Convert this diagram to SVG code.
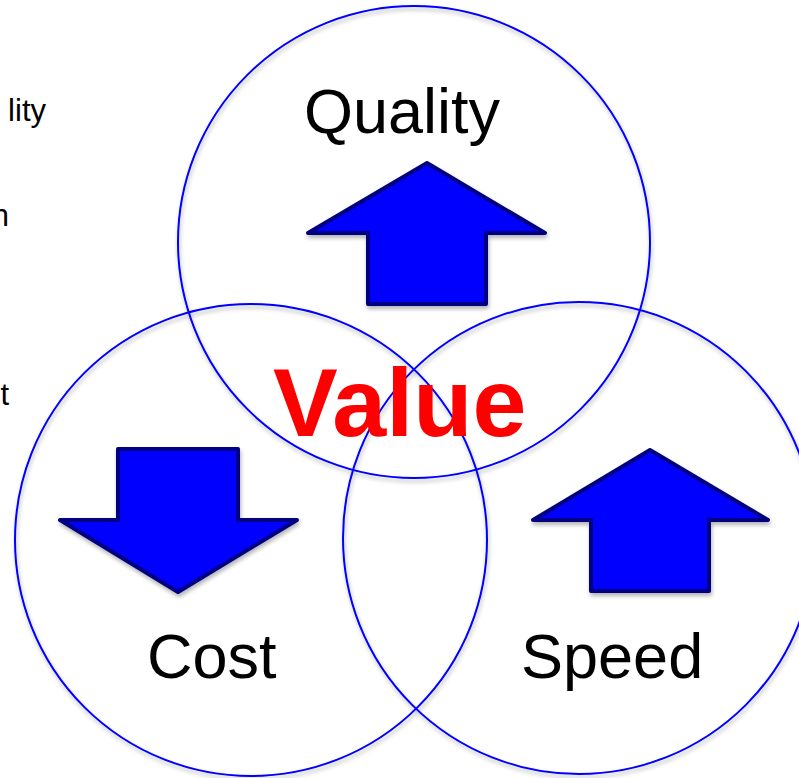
<svg xmlns="http://www.w3.org/2000/svg" width="799" height="778" viewBox="0 0 799 778">
<defs>
<filter id="sh" x="-10%" y="-10%" width="120%" height="120%">
<feGaussianBlur in="SourceAlpha" stdDeviation="2"/>
<feOffset dx="1" dy="3" result="b"/>
<feComponentTransfer><feFuncA type="linear" slope="0.3"/></feComponentTransfer>
<feMerge><feMergeNode/><feMergeNode in="SourceGraphic"/></feMerge>
</filter>
</defs>
<style>
.c{fill:none;stroke:#0000FF;stroke-width:2}
.a{fill:#0000FF;stroke:#000080;stroke-width:4;stroke-linejoin:round}
.t{font-family:"Liberation Sans",Arial,sans-serif;font-size:63px;fill:#000}
.s{font-family:"Liberation Sans",Arial,sans-serif;font-size:31px;fill:#000}
.v{font-family:"Liberation Sans",Arial,sans-serif;font-size:97px;font-weight:bold;fill:#FF0000}
</style>
<rect width="799" height="778" fill="#fff"/>
<g id="side-text">
<text class="s" x="46" y="121" text-anchor="end">lity</text>
<text class="s" x="9" y="226" text-anchor="end">n</text>
<text class="s" x="9" y="405" text-anchor="end">t</text>
</g>
<g id="circles" filter="url(#sh)">
<circle id="quality-circle" class="c" cx="414" cy="242" r="236"/>
<circle id="cost-circle" class="c" cx="251" cy="540" r="236"/>
<circle id="speed-circle" class="c" cx="579" cy="538" r="236"/>
</g>
<g id="quality">
<polygon class="a" filter="url(#sh)" points="427,163 545,233 486,233 486,304 368,304 368,233 308,233"/>
<text class="t" x="304" y="133">Quality</text>
</g>
<g id="cost">
<polygon class="a" filter="url(#sh)" points="118,449 238,449 238,520 297,520 178,592 60,520 118,520"/>
<text class="t" x="147" y="678">Cost</text>
</g>
<g id="speed">
<polygon class="a" filter="url(#sh)" points="650,450 768,520 709,520 709,591 591,591 591,520 533,520"/>
<text class="t" x="521" y="678">Speed</text>
</g>
<g id="value">
<text class="v" x="273" y="436">Value</text>
</g>
<g id="connectors"/>
</svg>
